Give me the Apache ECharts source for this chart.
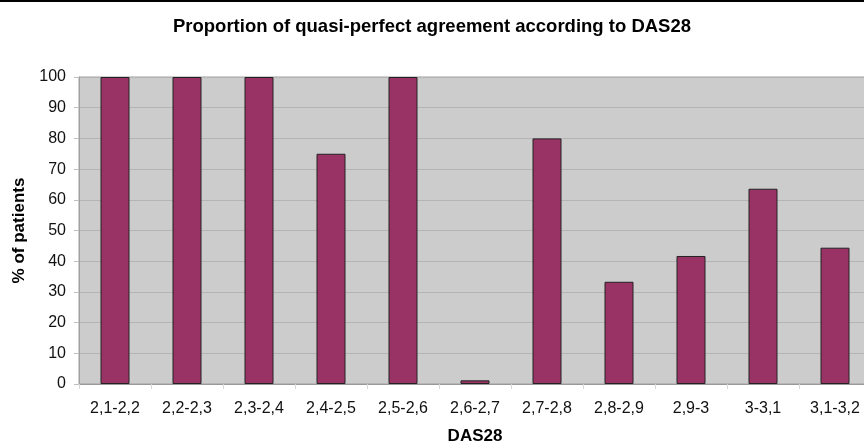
<!DOCTYPE html>
<html>
<head>
<meta charset="utf-8">
<script src="https://cdn.jsdelivr.net/npm/echarts@6/dist/echarts.min.js"></script>
<style>
html,body{margin:0;padding:0;background:#fff;overflow:hidden;}
#chart{width:864px;height:443px;}
</style>
</head>
<body>
<div id="chart"></div>
<script>
var categories = ['2,1-2,2','2,2-2,3','2,3-2,4','2,4-2,5','2,5-2,6','2,6-2,7','2,7-2,8','2,8-2,9','2,9-3','3-3,1','3,1-3,2'];
var values = [100, 100, 100, 75, 100, 1.2, 80, 33.3, 41.7, 63.6, 44.4];
var titleText = 'Proportion of quasi-perfect agreement according to DAS28';
var xName = 'DAS28';
var yName = '% of patients';

var chart = echarts.init(document.getElementById('chart'), null, {renderer: 'canvas'});
var font = 'Liberation Sans, Arial, sans-serif';
chart.setOption({
  animation: false,
  backgroundColor: '#ffffff',
  title: {
    text: titleText,
    left: 'center',
    top: 12,
    textStyle: {fontFamily: font, fontSize: 18.5, fontWeight: 'bold', color: '#000'}
  },
  graphic: [{
    type: 'rect', left: 0, top: 0,
    shape: {width: 864, height: 2},
    style: {fill: '#000'}
  }],
  grid: {
    left: 79, right: -7, top: 77, bottom: 59,
    outerBoundsMode: 'none',
    containLabel: false,
    show: true, backgroundColor: '#cccccc', borderColor: '#a0a0a0', borderWidth: 1
  },
  xAxis: {
    type: 'category',
    data: categories,
    name: xName,
    nameLocation: 'middle',
    nameGap: 44,
    nameTextStyle: {fontFamily: font, fontSize: 17, fontWeight: 'bold', color: '#000'},
    axisLine: {lineStyle: {color: '#999999', width: 1}},
    axisTick: {show: true, length: 5, lineStyle: {color: '#d8d8d8'}},
    axisLabel: {fontFamily: font, fontSize: 16, color: '#111', margin: 17}
  },
  yAxis: {
    type: 'value',
    min: 0, max: 100, interval: 10,
    name: yName,
    nameLocation: 'middle',
    nameRotate: 90,
    nameGap: 51,
    nameTextStyle: {fontFamily: font, fontSize: 17, fontWeight: 'bold', color: '#000'},
    axisLine: {show: true, lineStyle: {color: '#a0a0a0'}},
    axisTick: {show: true, length: 5, lineStyle: {color: '#c0c0c0'}},
    axisLabel: {fontFamily: font, fontSize: 16, color: '#111', margin: 13},
    splitLine: {show: true, lineStyle: {color: '#b4b4b4', width: 1}}
  },
  series: [{
    type: 'bar',
    data: values,
    barWidth: 29,
    itemStyle: {color: '#993366', borderColor: '#222222', borderWidth: 1}
  }]
});
</script>
</body>
</html>
